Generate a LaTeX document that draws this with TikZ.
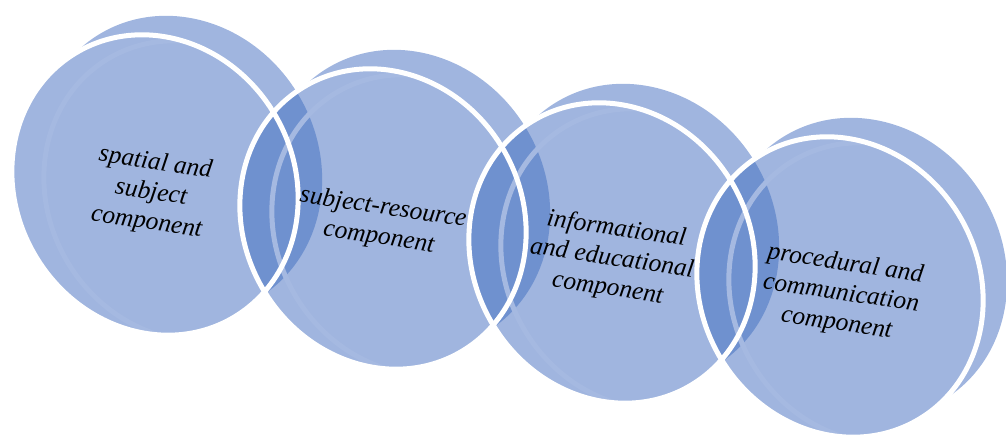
\documentclass[tikz,border=0pt]{standalone}
\usepackage{fontspec}
\setmainfont{Liberation Serif}
\definecolor{discblue}{RGB}{160,181,223}
\definecolor{overlapblue}{RGB}{111,145,207}
\definecolor{rimblue}{RGB}{165,185,225}
\begin{document}
\begin{tikzpicture}[x=1pt,y=-1pt,
    face/.style={x radius=154,y radius=139,rotate=-59},
    edge/.style={draw=white,line width=5pt},
    rim/.style={draw=rimblue,line width=5pt},
    lbl/.style={align=center,rotate=-8.5,inner sep=0pt,
      font=\fontsize{25.5}{30}\selectfont\itshape}]
\useasboundingbox (0,0) rectangle (1006,439);
\coordinate (c1) at (155,185);
\coordinate (b1) at (179,166);
\coordinate (r1) at (187,191);
\coordinate (c2) at (383,219);
\coordinate (b2) at (407,200);
\coordinate (r2) at (415,225);
\coordinate (c3) at (612,253);
\coordinate (b3) at (636,234);
\coordinate (r3) at (644,259);
\coordinate (c4) at (840,287);
\coordinate (b4) at (864,268);
\coordinate (r4) at (872,293);
% discs, back face and front face
\fill[discblue] (c1) ellipse[face] (b1) ellipse[face];
\fill[discblue] (c2) ellipse[face] (b2) ellipse[face];
\fill[discblue] (c3) ellipse[face] (b3) ellipse[face];
\fill[discblue] (c4) ellipse[face] (b4) ellipse[face];
% where two discs cross
\begin{scope}
\clip (c1) ellipse[face] (b1) ellipse[face];
\fill[overlapblue] (c2) ellipse[face] (b2) ellipse[face];
\end{scope}
\begin{scope}
\clip (c2) ellipse[face] (b2) ellipse[face];
\fill[overlapblue] (c3) ellipse[face] (b3) ellipse[face];
\end{scope}
\begin{scope}
\clip (c3) ellipse[face] (b3) ellipse[face];
\fill[overlapblue] (c4) ellipse[face] (b4) ellipse[face];
\end{scope}
% inner rims
\begin{scope}
\clip (c1) ellipse[face];
\draw[rim] (r1) ellipse[face];
\end{scope}
\begin{scope}
\clip (c2) ellipse[face];
\draw[rim] (r2) ellipse[face];
\end{scope}
\begin{scope}
\clip (c3) ellipse[face];
\draw[rim] (r3) ellipse[face];
\end{scope}
\begin{scope}
\clip (c4) ellipse[face];
\draw[rim] (r4) ellipse[face];
\end{scope}
% white edges of the front faces
\draw[edge] (c1) ellipse[face];
\draw[edge] (c2) ellipse[face];
\draw[edge] (c3) ellipse[face];
\draw[edge] (c4) ellipse[face];
\node[lbl] (spatial) at (151,193) {spatial and\\subject\\component};
\node[lbl] (resource) at (381,223) {subject-resource\\component};
\node[lbl] (info) at (612,259) {informational\\and educational\\component};
\node[lbl] (proc) at (841,294) {procedural and\\communication\\component};
\end{tikzpicture}
\end{document}
